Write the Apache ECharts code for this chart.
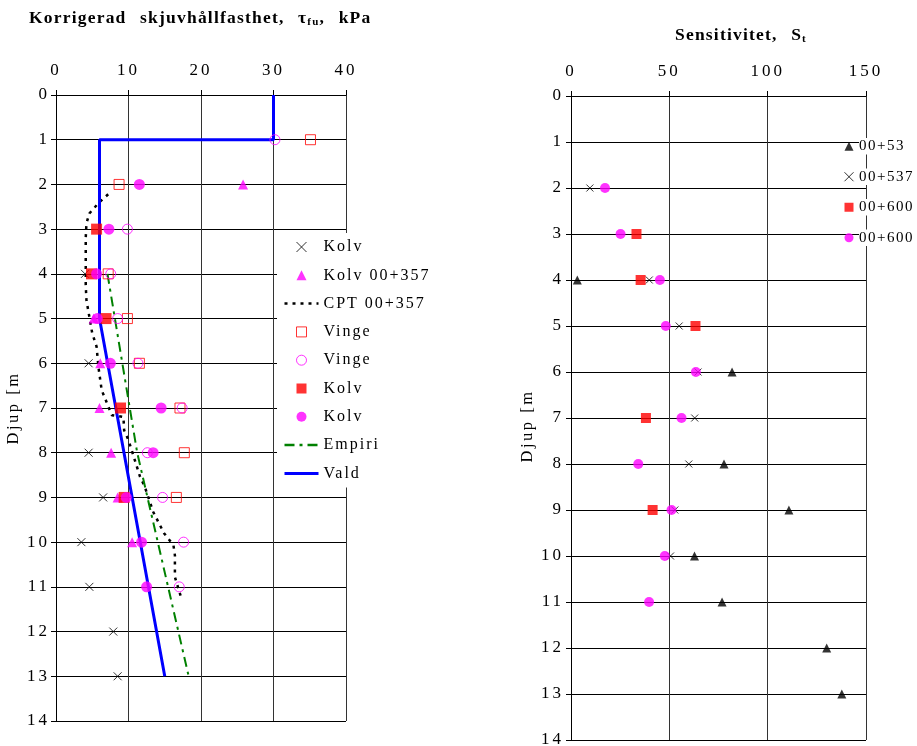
<!DOCTYPE html>
<html>
<head>
<meta charset="utf-8">
<script src="https://cdn.jsdelivr.net/npm/echarts@6/dist/echarts.min.js"></script>
<style>
  html, body { margin: 0; padding: 0; background: #fff; }
  #chart { width: 917px; height: 746px; }
</style>
</head>
<body>
<div id="chart"></div>
<script>
// ---- Axis ticks ----
const shearTicks = [0, 10, 20, 30, 40];          // kPa
const sensTicks = [0, 50, 100, 150];             // St
const depthTicks = [0, 1, 2, 3, 4, 5, 6, 7, 8, 9, 10, 11, 12, 13, 14]; // m

// ---- Corrected undrained shear strength, [kPa, depth m] ----
const kolvCross = [[4.0, 4], [4.5, 6], [4.5, 8], [6.5, 9], [3.5, 10], [4.6, 11], [7.9, 12], [8.5, 13]];
const kolv357 = [[25.8, 2], [5.2, 5], [6.1, 6], [6.0, 7], [7.6, 8], [8.5, 9], [10.5, 10]];
const cpt357 = [[7.2, 2.22], [5.85, 2.42], [4.6, 2.65], [4.2, 2.87], [4.1, 3.2], [4.1, 3.8], [4.1, 4.25],
  [4.2, 4.59], [5.0, 5.33], [5.6, 5.63], [5.85, 6.08], [6.3, 6.6], [7.7, 7.16], [9.3, 7.2], [9.4, 7.5],
  [10.0, 7.72], [11.6, 8.54], [12.2, 8.74], [13.4, 9.32], [14.9, 9.8], [16.2, 10.07], [16.4, 10.29],
  [16.4, 10.78], [17.3, 11.26]];
const vingeSquare = [[35.1, 1], [8.7, 2], [7.2, 4], [9.85, 5], [11.5, 6], [17.1, 7], [17.7, 8], [16.6, 9]];
const vingeCircle = [[30.2, 1], [9.85, 3], [7.55, 4], [8.5, 5], [11.3, 6], [17.4, 7], [12.6, 8], [14.7, 9], [17.6, 10], [17.0, 11]];
const kolvSquare = [[5.6, 3], [4.9, 4], [6.9, 5], [8.9, 7], [9.4, 9]];
const kolvDot = [[11.5, 2], [7.3, 3], [5.6, 4], [5.7, 5], [7.5, 6], [14.5, 7], [13.4, 8], [9.7, 9], [11.8, 10], [12.5, 11]];
const empiri = [[7.1, 4], [11.2, 8], [18.3, 13]];
const vald = [[30, 0], [30, 1], [6, 1], [6, 5], [15, 13]];

// ---- Sensitivity, [St, depth m] ----
const sens53 = [[3.2, 4], [81.9, 6], [77.8, 8], [110.8, 9], [62.8, 10], [76.8, 11], [130, 12], [137.7, 13]];
const sens537 = [[9.6, 2], [39.8, 4], [55, 5], [64.6, 6], [62.9, 7], [59.9, 8], [52.8, 9], [50.6, 10]];
const sens600Square = [[33.3, 3], [35.4, 4], [63.3, 5], [38.1, 7], [41.5, 9]];
const sens600Dot = [[17.3, 2], [25.2, 3], [45.2, 4], [48.2, 5], [63.5, 6], [56.2, 7], [34.2, 8], [51.1, 9], [47.7, 10], [39.7, 11]];

// Wide tracking of the serif type: letter/word spacing chosen from the font in use.
function trackingFor(font) {
  if (/bold/.test(font)) return [1.2, 8];
  const m = /(\d+(?:\.\d+)?)px/.exec(font);
  const size = m ? parseFloat(m[1]) : 12;
  if (size === 17) return [3, 0];
  if (size === 16.5) return [2.5, 0];
  if (size === 16) return [2, 0];
  if (size === 15) return [1.5, 0];
  return [0, 0];
}
(function () {
  const proto = CanvasRenderingContext2D.prototype;
  const desc = Object.getOwnPropertyDescriptor(proto, 'font');
  if (!desc || !('letterSpacing' in proto)) return;
  Object.defineProperty(proto, 'font', {
    configurable: true,
    get() { return desc.get.call(this); },
    set(v) {
      desc.set.call(this, v);
      const t = trackingFor(String(v));
      this.letterSpacing = t[0] + 'px';
      if ('wordSpacing' in proto) this.wordSpacing = t[1] + 'px';
    }
  });
})();

const SERIF = 'Liberation Serif';
const CROSS = 'path://M0,0L10,10M10,0L0,10';
// Legend glyphs as paths so that they keep a square aspect inside the wide icon box
const ICON_RECT = 'path://M0,0H10V10H0Z';
const ICON_CIRCLE = 'path://M5,0A5,5 0 1 1 4.999,0Z';
const ICON_TRIANGLE = 'path://M5,0L10,10H0Z';
const MAGENTA = '#ff00ff';
const RED = '#ff0000';

function valueAxisX(gridIndex, ticks) {
  return {
    type: 'value', gridIndex, position: 'top',
    min: ticks[0], max: ticks[ticks.length - 1], interval: ticks[1] - ticks[0],
    axisLine: { show: true, lineStyle: { color: '#000', width: 1 } },
    axisTick: { show: true, inside: false, length: 5, lineStyle: { color: '#000' } },
    axisLabel: { margin: 14, fontFamily: SERIF, fontSize: 17, color: '#000' },
    splitLine: { show: true, lineStyle: { color: '#333', width: 1 } }
  };
}
function depthAxis(gridIndex, labelMargin, nameGap, namePad) {
  return {
    type: 'value', gridIndex, inverse: true,
    min: depthTicks[0], max: depthTicks[depthTicks.length - 1], interval: 1,
    name: 'Djup [m', nameLocation: 'middle', nameGap: nameGap, nameRotate: 90,
    nameTextStyle: { fontFamily: SERIF, fontSize: 16.5, color: '#000', padding: namePad },
    axisLine: { show: true, onZero: false, lineStyle: { color: '#000', width: 1 } },
    axisTick: { show: true, inside: false, length: 5, lineStyle: { color: '#000' } },
    axisLabel: { margin: labelMargin, fontFamily: SERIF, fontSize: 17, color: '#000' },
    splitLine: { show: true, lineStyle: { color: '#000', width: 1 } }
  };
}
function scatter(name, data, x, symbol, size, style, z) {
  return {
    type: 'scatter', name, data, xAxisIndex: x, yAxisIndex: x,
    symbol, symbolSize: size, itemStyle: style, z: z || 3, silent: true
  };
}

const crossStyle = { color: 'transparent', borderColor: '#000', borderWidth: 1 };
const openSq = { color: 'transparent', borderColor: RED, borderWidth: 1 };
const openCi = { color: 'transparent', borderColor: MAGENTA, borderWidth: 1 };
const noMarker = { color: 'transparent', borderWidth: 0, opacity: 0 };

const chart = echarts.init(document.getElementById('chart'), null, { renderer: 'canvas' });
chart.setOption({
  animation: false,
  backgroundColor: '#fff',
  title: [
    {
      left: 29, top: 8, padding: 0,
      text: '{a|Korrigerad skjuvhållfasthet, τ}{s|fu}{a|, kPa}',
      textStyle: {
        rich: {
          a: { fontFamily: SERIF, fontSize: 17.5, fontWeight: 'bold', color: '#000', lineHeight: 20 },
          s: { fontFamily: SERIF, fontSize: 11, fontWeight: 'bold', color: '#000', lineHeight: 10, verticalAlign: 'bottom' }
        }
      }
    },
    {
      left: 675, top: 25, padding: 0,
      text: '{a|Sensitivitet, S}{s|t}',
      textStyle: {
        rich: {
          a: { fontFamily: SERIF, fontSize: 17.5, fontWeight: 'bold', color: '#000', lineHeight: 20 },
          s: { fontFamily: SERIF, fontSize: 11, fontWeight: 'bold', color: '#000', lineHeight: 10, verticalAlign: 'bottom' }
        }
      }
    }
  ],
  grid: [
    { left: 56, top: 95, width: 290, height: 626, containLabel: false, outerBoundsMode: 'none' },
    { left: 571, top: 96, width: 295, height: 644, containLabel: false, outerBoundsMode: 'none' }
  ],
  xAxis: [valueAxisX(0, shearTicks), valueAxisX(1, sensTicks)],
  yAxis: [depthAxis(0, 6, 22, [0, 0, 0, 0]), depthAxis(1, 7, 31, [0, 16, 0, 0])],
  legend: [
    {
      orient: 'vertical', left: 277, top: 233, padding: [5, 10, 5, 6],
      itemGap: 10.3, itemWidth: 34, itemHeight: 10, symbolKeepAspect: true,
      backgroundColor: '#fff', selectedMode: false, z: 10,
      textStyle: { fontFamily: SERIF, fontSize: 16, color: '#000' },
      formatter: n => n.trim(),
      data: [
        { name: 'Kolv', icon: CROSS, itemStyle: crossStyle },
        { name: 'Kolv 00+357', icon: ICON_TRIANGLE, itemStyle: { color: MAGENTA, borderWidth: 0 } },
        { name: 'CPT 00+357', itemStyle: noMarker, lineStyle: { color: '#000', width: 2.5, type: [3, 5] } },
        { name: 'Vinge', icon: ICON_RECT, itemStyle: openSq },
        { name: 'Vinge ', icon: ICON_CIRCLE, itemStyle: openCi },
        { name: 'Kolv ', icon: ICON_RECT, itemStyle: { color: RED, borderWidth: 0 } },
        { name: 'Kolv  ', icon: ICON_CIRCLE, itemStyle: { color: MAGENTA, borderWidth: 0 } },
        { name: 'Empiri', itemStyle: noMarker, lineStyle: { color: '#008000', width: 2.5, type: [10, 5, 3, 5] } },
        { name: 'Vald', itemStyle: noMarker, lineStyle: { color: '#0000ff', width: 3, type: 'solid' } }
      ]
    },
    {
      orient: 'vertical', left: 844, top: 138, padding: 0,
      itemGap: 14, itemWidth: 10, itemHeight: 9, symbolKeepAspect: true,
      selectedMode: false, z: 10,
      textStyle: { fontFamily: SERIF, fontSize: 15, color: '#000', backgroundColor: '#fff' },
      formatter: n => n.trim(),
      data: [
        { name: '00+53', icon: ICON_TRIANGLE, itemStyle: { color: '#000', borderWidth: 0 } },
        { name: '00+537', icon: CROSS, itemStyle: crossStyle },
        { name: '00+600', icon: ICON_RECT, itemStyle: { color: RED, borderWidth: 0 } },
        { name: '00+600 ', icon: ICON_CIRCLE, itemStyle: { color: MAGENTA, borderWidth: 0 } }
      ]
    }
  ],
  series: [
    scatter('Kolv', kolvCross, 0, CROSS, 8, crossStyle),
    scatter('Kolv 00+357', kolv357, 0, 'triangle', 10, { color: MAGENTA }),
    {
      type: 'line', name: 'CPT 00+357', data: cpt357, xAxisIndex: 0, yAxisIndex: 0,
      symbol: 'none', showSymbol: false, smooth: false, silent: true, z: 3,
      lineStyle: { color: '#000', width: 2.5, type: [3, 5] }
    },
    scatter('Vinge', vingeSquare, 0, 'rect', 10, openSq),
    scatter('Vinge ', vingeCircle, 0, 'circle', 10, openCi),
    scatter('Kolv ', kolvSquare, 0, 'rect', 11, { color: RED }),
    scatter('Kolv  ', kolvDot, 0, 'circle', 11, { color: MAGENTA }),
    {
      type: 'line', name: 'Empiri', data: empiri, xAxisIndex: 0, yAxisIndex: 0,
      symbol: 'none', showSymbol: false, silent: true, z: 3,
      lineStyle: { color: '#008000', width: 2, type: [10, 5, 3, 5] }
    },
    {
      type: 'line', name: 'Vald', data: vald, xAxisIndex: 0, yAxisIndex: 0,
      symbol: 'none', showSymbol: false, silent: true, z: 3,
      lineStyle: { color: '#0000ff', width: 3 }
    },
    scatter('00+53', sens53, 1, 'triangle', 9, { color: '#000' }),
    scatter('00+537', sens537, 1, CROSS, 7, crossStyle),
    scatter('00+600', sens600Square, 1, 'rect', 10, { color: RED }),
    scatter('00+600 ', sens600Dot, 1, 'circle', 10, { color: MAGENTA })
  ]
});
</script>
</body>
</html>
